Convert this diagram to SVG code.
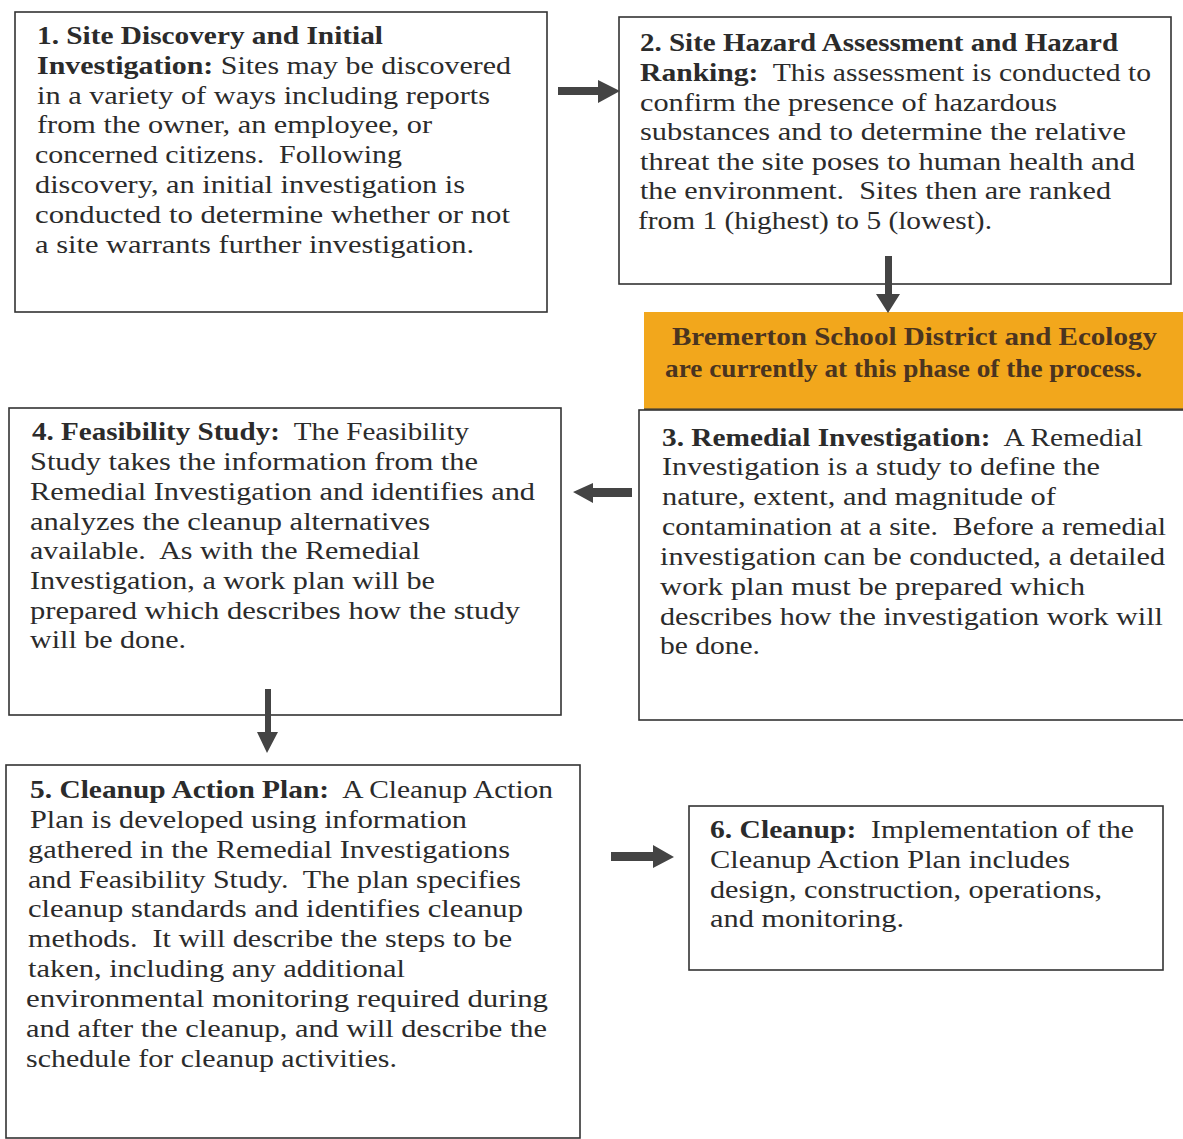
<svg xmlns="http://www.w3.org/2000/svg" width="1183" height="1139" viewBox="0 0 1183 1139">
<style>
.box{fill:#fff;stroke:#333;stroke-width:1.6}
.t{font-family:"Liberation Serif","Times New Roman",serif;font-size:26px;fill:#2b2b2b;white-space:pre}
.b{font-weight:bold}
.o{font-family:"Liberation Serif","Times New Roman",serif;font-size:26px;font-weight:bold;fill:#4a3420}
.arr{fill:#444}
</style>
<rect width="1183" height="1139" fill="#fff"/>
<g id="node1">
<rect class="box" x="15" y="12" width="532" height="300"/>
<text class="t"><tspan class="b" x="37" y="44" textLength="346" lengthAdjust="spacingAndGlyphs">1. Site Discovery and Initial</tspan></text>
<text class="t" x="37" y="74" textLength="474" lengthAdjust="spacingAndGlyphs"><tspan class="b">Investigation:</tspan> Sites may be discovered</text>
<text class="t" x="37" y="104" textLength="453" lengthAdjust="spacingAndGlyphs">in a variety of ways including reports</text>
<text class="t" x="37" y="133" textLength="395" lengthAdjust="spacingAndGlyphs">from the owner, an employee, or</text>
<text class="t" x="35" y="163" textLength="367" lengthAdjust="spacingAndGlyphs">concerned citizens.  Following</text>
<text class="t" x="35" y="193" textLength="430" lengthAdjust="spacingAndGlyphs">discovery, an initial investigation is</text>
<text class="t" x="35" y="223" textLength="475" lengthAdjust="spacingAndGlyphs">conducted to determine whether or not</text>
<text class="t" x="35" y="253" textLength="439" lengthAdjust="spacingAndGlyphs">a site warrants further investigation.</text>
</g>
<g id="node2">
<rect class="box" x="619" y="17" width="552" height="267"/>
<text class="t"><tspan class="b" x="640" y="51" textLength="478" lengthAdjust="spacingAndGlyphs">2. Site Hazard Assessment and Hazard</tspan></text>
<text class="t" x="640" y="81" textLength="511" lengthAdjust="spacingAndGlyphs"><tspan class="b">Ranking:</tspan>  This assessment is conducted to</text>
<text class="t" x="640" y="111" textLength="417" lengthAdjust="spacingAndGlyphs">confirm the presence of hazardous</text>
<text class="t" x="640" y="140" textLength="486" lengthAdjust="spacingAndGlyphs">substances and to determine the relative</text>
<text class="t" x="640" y="170" textLength="495" lengthAdjust="spacingAndGlyphs">threat the site poses to human health and</text>
<text class="t" x="640" y="199" textLength="471" lengthAdjust="spacingAndGlyphs">the environment.  Sites then are ranked</text>
<text class="t" x="638" y="229" textLength="354" lengthAdjust="spacingAndGlyphs">from 1 (highest) to 5 (lowest).</text>
</g>
<g id="status">
<rect x="644" y="312" width="539" height="98" fill="#F2A71C"/>
<line x1="644" y1="409" x2="1183" y2="409" stroke="#8a6a30" stroke-width="2"/>
<text class="o" x="672" y="345" textLength="485" lengthAdjust="spacingAndGlyphs">Bremerton School District and Ecology</text>
<text class="o" x="665" y="377" textLength="477" lengthAdjust="spacingAndGlyphs">are currently at this phase of the process.</text>
</g>
<g id="node3">
<rect class="box" x="639" y="410" width="550" height="310"/>
<text class="t" x="662" y="446" textLength="481" lengthAdjust="spacingAndGlyphs"><tspan class="b">3. Remedial Investigation:</tspan>  A Remedial</text>
<text class="t" x="662" y="475" textLength="438" lengthAdjust="spacingAndGlyphs">Investigation is a study to define the</text>
<text class="t" x="662" y="505" textLength="394" lengthAdjust="spacingAndGlyphs">nature, extent, and magnitude of</text>
<text class="t" x="662" y="535" textLength="504" lengthAdjust="spacingAndGlyphs">contamination at a site.  Before a remedial</text>
<text class="t" x="660" y="565" textLength="505" lengthAdjust="spacingAndGlyphs">investigation can be conducted, a detailed</text>
<text class="t" x="660" y="595" textLength="425" lengthAdjust="spacingAndGlyphs">work plan must be prepared which</text>
<text class="t" x="660" y="625" textLength="503" lengthAdjust="spacingAndGlyphs">describes how the investigation work will</text>
<text class="t" x="660" y="654" textLength="100" lengthAdjust="spacingAndGlyphs">be done.</text>
</g>
<g id="node4">
<rect class="box" x="9" y="408" width="552" height="307"/>
<text class="t" x="32" y="440" textLength="437" lengthAdjust="spacingAndGlyphs"><tspan class="b">4. Feasibility Study:</tspan>  The Feasibility</text>
<text class="t" x="30" y="470" textLength="448" lengthAdjust="spacingAndGlyphs">Study takes the information from the</text>
<text class="t" x="30" y="500" textLength="505" lengthAdjust="spacingAndGlyphs">Remedial Investigation and identifies and</text>
<text class="t" x="30" y="530" textLength="400" lengthAdjust="spacingAndGlyphs">analyzes the cleanup alternatives</text>
<text class="t" x="30" y="559" textLength="390" lengthAdjust="spacingAndGlyphs">available.  As with the Remedial</text>
<text class="t" x="30" y="589" textLength="405" lengthAdjust="spacingAndGlyphs">Investigation, a work plan will be</text>
<text class="t" x="30" y="619" textLength="490" lengthAdjust="spacingAndGlyphs">prepared which describes how the study</text>
<text class="t" x="30" y="648" textLength="156" lengthAdjust="spacingAndGlyphs">will be done.</text>
</g>
<g id="node5">
<rect class="box" x="6" y="765" width="574" height="373"/>
<text class="t" x="30" y="798" textLength="523" lengthAdjust="spacingAndGlyphs"><tspan class="b">5. Cleanup Action Plan:</tspan>  A Cleanup Action</text>
<text class="t" x="30" y="828" textLength="437" lengthAdjust="spacingAndGlyphs">Plan is developed using information</text>
<text class="t" x="28" y="858" textLength="482" lengthAdjust="spacingAndGlyphs">gathered in the Remedial Investigations</text>
<text class="t" x="28" y="888" textLength="493" lengthAdjust="spacingAndGlyphs">and Feasibility Study.  The plan specifies</text>
<text class="t" x="28" y="917" textLength="495" lengthAdjust="spacingAndGlyphs">cleanup standards and identifies cleanup</text>
<text class="t" x="28" y="947" textLength="484" lengthAdjust="spacingAndGlyphs">methods.  It will describe the steps to be</text>
<text class="t" x="28" y="977" textLength="377" lengthAdjust="spacingAndGlyphs">taken, including any additional</text>
<text class="t" x="26" y="1007" textLength="522" lengthAdjust="spacingAndGlyphs">environmental monitoring required during</text>
<text class="t" x="26" y="1037" textLength="521" lengthAdjust="spacingAndGlyphs">and after the cleanup, and will describe the</text>
<text class="t" x="26" y="1067" textLength="371" lengthAdjust="spacingAndGlyphs">schedule for cleanup activities.</text>
</g>
<g id="node6">
<rect class="box" x="689" y="806" width="474" height="164"/>
<text class="t" x="710" y="838" textLength="424" lengthAdjust="spacingAndGlyphs"><tspan class="b">6. Cleanup:</tspan>  Implementation of the</text>
<text class="t" x="710" y="868" textLength="360" lengthAdjust="spacingAndGlyphs">Cleanup Action Plan includes</text>
<text class="t" x="710" y="898" textLength="392" lengthAdjust="spacingAndGlyphs">design, construction, operations,</text>
<text class="t" x="710" y="927" textLength="194" lengthAdjust="spacingAndGlyphs">and monitoring.</text>
</g>
<g id="connectors">
<polygon class="arr" points="558,87 598,87 598,80 620,91 598,103 598,95 558,95"/>
<polygon class="arr" points="885,256 892,256 892,294 900,294 888,313 876,294 885,294"/>
<polygon class="arr" points="632,488 593,488 593,483 573,492 593,503 593,497 632,497"/>
<polygon class="arr" points="265,689 271,689 271,732 278,732 267,753 257,732 265,732"/>
<polygon class="arr" points="611,852 653,852 653,845 674,857 653,868 653,861 611,861"/>
</g>
</svg>
